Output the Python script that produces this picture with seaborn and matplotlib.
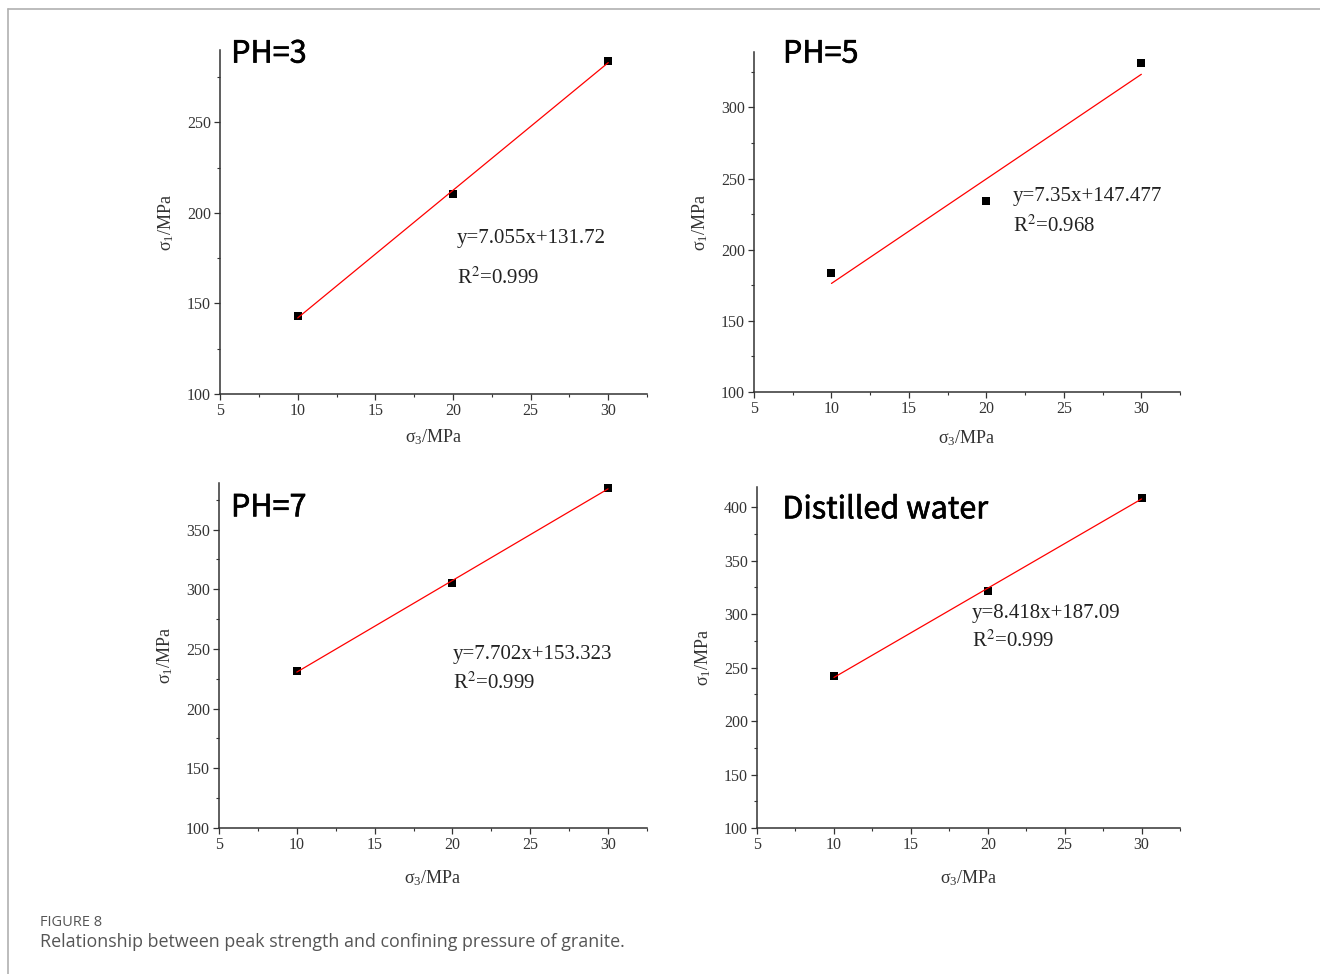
import matplotlib
matplotlib.use("Agg")
import matplotlib.pyplot as plt
import matplotlib.patheffects as pe
from matplotlib.lines import Line2D
from matplotlib.ticker import MultipleLocator
import seaborn as sns

# ---- data ----
sigma3 = [10, 20, 30]
ph3 = [143.0, 210.5, 284.0]
ph5 = [184.0, 234.5, 331.0]
ph7 = [231.5, 305.5, 385.0]
distilled = [242.0, 322.0, 409.0]

panel_titles = ["PH=3", "PH=5", "PH=7", "Distilled water"]
fit_eqs = ["y=7.055x+131.72", "y=7.35x+147.477", "y=7.702x+153.323", "y=8.418x+187.09"]
fit_r2 = ["0.999", "0.968", "0.999", "0.999"]
y_tops = [290, 339, 389, 419]

sns.set_style("ticks")
plt.rcParams["font.family"] = ["Liberation Serif", "DejaVu Serif"]
plt.rcParams["mathtext.fontset"] = "stix"

fig = plt.figure(figsize=(13.2, 9.74), dpi=100)

boxes = [
    (0.1667, 0.5955, 0.3235, 0.3532),
    (0.5712, 0.5975, 0.3228, 0.3491),
    (0.1659, 0.1499, 0.3242, 0.3542),
    (0.5735, 0.1499, 0.3205, 0.3501),
]
series = [ph3, ph5, ph7, distilled]
title_pos = [(0.026, 0.988), (0.068, 0.994), (0.028, 0.928), (0.060, 0.933)]
eq_pos = [(0.555, 0.453, 0.337), (0.608, 0.574, 0.488), (0.547, 0.504, 0.420), (0.508, 0.630, 0.548)]
xlabelpads = [6, 8, 11, 11]

for i in range(4):
    ax = fig.add_axes(boxes[i])
    sns.regplot(x=sigma3, y=series[i], ax=ax, ci=None, marker="s", truncate=True,
                scatter_kws=dict(color="black", s=40, linewidths=0, alpha=1),
                line_kws=dict(color="red", lw=0.9))
    ax.set_xlim(5, 32.5)
    ax.set_ylim(100, y_tops[i])
    ax.xaxis.set_major_locator(MultipleLocator(5))
    ax.xaxis.set_minor_locator(MultipleLocator(2.5))
    ax.yaxis.set_major_locator(MultipleLocator(50))
    ax.yaxis.set_minor_locator(MultipleLocator(25))
    sns.despine(ax=ax)
    for s in ["left", "bottom"]:
        ax.spines[s].set_color("#333333")
        ax.spines[s].set_linewidth(1.1)
    ax.tick_params(which="major", direction="out", length=4.5, width=0.9, color="#333333",
                   labelsize=11.5, labelcolor="#333333", pad=2)
    ax.tick_params(which="minor", direction="out", length=2.5, width=0.8, color="#333333")
    ax.set_xlabel(r"$\mathregular{σ_3}$/MPa", fontsize=13, color="#333333", labelpad=xlabelpads[i])
    ax.set_ylabel(r"$\mathregular{σ_1}$/MPa", fontsize=13, color="#333333", labelpad=8)
    tx, ty = title_pos[i]
    ax.text(tx, ty, panel_titles[i], transform=ax.transAxes, fontsize=22,
            family=["Noto Sans CJK SC", "Noto Sans", "DejaVu Sans"], color="black",
            ha="left", va="center",
            path_effects=[pe.withStroke(linewidth=0.45, foreground="black")])
    ex, ey1, ey2 = eq_pos[i]
    ax.text(ex, ey1, fit_eqs[i], transform=ax.transAxes, fontsize=15, color="#222222",
            ha="left", va="center")
    ax.text(ex, ey2, r"R$^2$=" + fit_r2[i], transform=ax.transAxes, fontsize=15,
            color="#222222", ha="left", va="center")

# figure frame (top and left)
fig.add_artist(Line2D([8 / 1320, 1.0], [1 - 9 / 974, 1 - 9 / 974], transform=fig.transFigure,
                      color="#b0b0b0", lw=1.2))
fig.add_artist(Line2D([8 / 1320, 8 / 1320], [0.0, 1 - 9 / 974], transform=fig.transFigure,
                      color="#b0b0b0", lw=1.2))

fig.text(40 / 1320, 1 - 922 / 974, "FIGURE 8", fontsize=10.5, color="#555555",
         family=["Open Sans", "DejaVu Sans"], ha="left", va="center")
fig.text(40 / 1320, 1 - 942 / 974, "Relationship between peak strength and confining pressure of granite.",
         fontsize=12.9, color="#555555", family=["Open Sans", "DejaVu Sans"], ha="left", va="center")

fig.savefig("out.png", dpi=100)
